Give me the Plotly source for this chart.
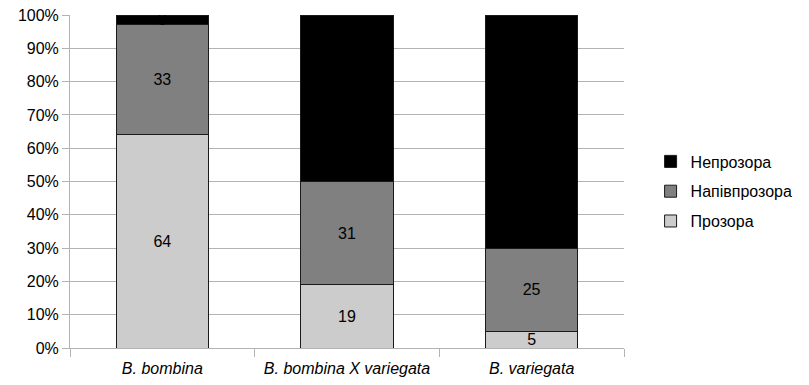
import plotly.graph_objects as go

categories = ["B. bombina", "B. bombina X variegata", "B. variegata"]
series_names = ["Прозора", "Напівпрозора", "Непрозора"]
prozora = [64, 19, 5]
napivprozora = [33, 31, 25]
neprozora = [3, 50, 70]
colors = ["#cccccc", "#808080", "#000000"]
legend_ranks = [3, 2, 1]

values = [prozora, napivprozora, neprozora]
FONT = "Liberation Sans, Arial, sans-serif"

fig = go.Figure()
for name, vals, col, rank in zip(series_names, values, colors, legend_ranks):
    fig.add_trace(go.Bar(
        x=categories, y=vals, name=name, legendgroup=name, legendrank=rank,
        marker=dict(color=col, line=dict(color="#1a1a1a", width=1)),
        text=[str(v) for v in vals], textposition="inside",
        insidetextanchor="middle", textangle=0,
        textfont=dict(color="#000000", size=16, family=FONT),
        constraintext="none",
        width=0.5,
    ))

fig.update_layout(
    barmode="stack",
    width=801, height=377,
    margin=dict(l=62, r=185, t=7, b=37),
    paper_bgcolor="white", plot_bgcolor="white",
    font=dict(family=FONT, size=16, color="#000000"),
    uniformtext=dict(minsize=16, mode="show"),
    legend=dict(
        traceorder="grouped",
        x=1.048, xanchor="left", y=0.47, yanchor="middle",
        font=dict(size=16), itemwidth=30,
        tracegroupgap=6,
    ),
    xaxis=dict(
        type="category", tickson="boundaries", ticks="outside", ticklen=8,
        tickcolor="#b3b3b3", showline=True, linecolor="#b3b3b3",
        tickfont=dict(style="italic", size=16),
        showgrid=False, automargin=False, ticklabelstandoff=6,
    ),
    yaxis=dict(
        range=[0, 100], dtick=10, ticksuffix="%", ticks="outside", ticklen=7,
        tickcolor="#b3b3b3", showline=True, linecolor="#b3b3b3",
        gridcolor="#b3b3b3", gridwidth=1, zeroline=False,
        tickfont=dict(size=16), automargin=False,
        ticklabeloverflow="allow",
    ),
)

fig.write_html("out.html")
